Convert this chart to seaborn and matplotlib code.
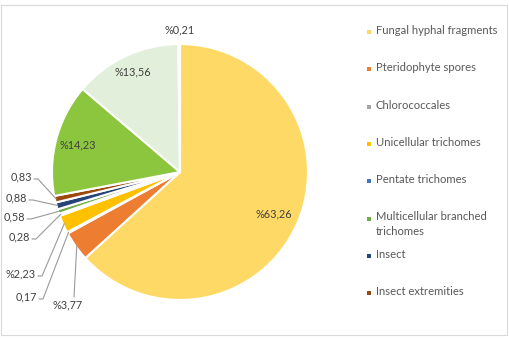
import matplotlib
matplotlib.use('Agg')
import matplotlib.pyplot as plt
import matplotlib.patches as mpatches
import numpy as np
import seaborn as sns

# pie data (clockwise from 12 o'clock)
categories = ['Fungal hyphal fragments', 'Pteridophyte spores', 'Chlorococcales',
              'Unicellular trichomes', 'Pentate trichomes',
              'Multicellular branched\ntrichomes', 'Insect', 'Insect extremities',
              'Other A', 'Other B', 'Other C']
values = [63.26, 3.77, 0.17, 2.23, 0.28, 0.58, 0.88, 0.83, 14.23, 13.56, 0.21]
value_labels = ['%63,26', '%3,77', '0,17', '%2,23', '0,28', '0,58', '0,88', '0,83',
                '%14,23', '%13,56', '%0,21']
colors = ['#FFD966', '#ED7D31', '#A5A5A5', '#FFC000', '#4472C4', '#70AD47',
          '#264478', '#9E480E', '#8CC63F', '#E2EFDA', '#F4F4F4']
n_legend = 8  # legend only lists the first 8 categories

sns.set_theme(style='white')
plt.rcParams['font.family'] = ['Lato', 'DejaVu Sans']
palette = sns.color_palette(colors)

W, H = 510, 339
fig = plt.figure(figsize=(W / 100, H / 100), dpi=100)

# outer chart-area border
fig.patches.append(mpatches.Rectangle((1.5 / W, 4.5 / H), (W - 4) / W, (H - 9) / H,
                                      transform=fig.transFigure, fill=False,
                                      edgecolor='#D9D9D9', linewidth=0.8))

cx, cy, R = 180, 172, 128
ax = fig.add_axes([(cx - R) / W, (H - cy - R) / H, 2 * R / W, 2 * R / H])
wedges, _ = ax.pie(values, colors=palette, startangle=90, counterclock=False,
                   wedgeprops=dict(edgecolor='white', linewidth=1.5))
ax.set_xlim(-1, 1)
ax.set_ylim(-1, 1)
ax.axis('off')


def to_data(px, py):
    return (px - cx) / R, (cy - py) / R


def mid_point(w, r):
    a = np.deg2rad((w.theta1 + w.theta2) / 2)
    return r * np.cos(a), r * np.sin(a)


txt_kw = dict(fontsize=7.8, color='#404040')

# labels inside the big slices
for i, r in [(0, 0.8), (8, 0.83), (9, 0.86)]:
    x, y = mid_point(wedges[i], r)
    ax.text(x, y, value_labels[i], ha='center', va='center', **txt_kw)

x, y = mid_point(wedges[10], 1.11)
ax.text(x, y, value_labels[10], ha='center', va='center', **txt_kw)

# left side labels with leader lines (text right edge, centre y in pixels)
left_pos = {7: (32, 177), 6: (27, 198), 5: (25, 217), 4: (30, 237),
            3: (36, 274), 2: (37, 297)}
line_kw = dict(color='#9A9A9A', linewidth=0.8, clip_on=False)
for i, (px, py) in left_pos.items():
    tx, ty = to_data(px, py)
    ax.text(tx, ty, value_labels[i], ha='right', va='center', **txt_kw)
    x0, y0 = to_data(px + 2, py + 2)
    x1, y1 = to_data(px + 6, py + 2)
    xe, ye = mid_point(wedges[i], 0.99)
    ax.plot([x0, x1, xe], [y0, y1, ye], **line_kw)

# %3,77 sits below its slice
tx, ty = to_data(68, 305)
ax.text(tx, ty, value_labels[1], ha='center', va='center', **txt_kw)
x0, y0 = to_data(74, 297)
xe, ye = mid_point(wedges[1], 0.99)
ax.plot([x0, xe], [y0, ye], **line_kw)

# legend (Excel style, one row every ~37 px)
for i in range(n_legend):
    ry = 32 + 37.3 * i
    fig.patches.append(mpatches.Rectangle((367 / W, (H - ry - 2) / H), 4 / W, 4 / H,
                                          transform=fig.transFigure,
                                          facecolor=palette[i], edgecolor='none'))
    fig.text(376 / W, (H - ry + 7) / H, categories[i], ha='left', va='top',
             fontsize=8.1, color='#595959', linespacing=1.35)

fig.savefig('out.png', dpi=100)
